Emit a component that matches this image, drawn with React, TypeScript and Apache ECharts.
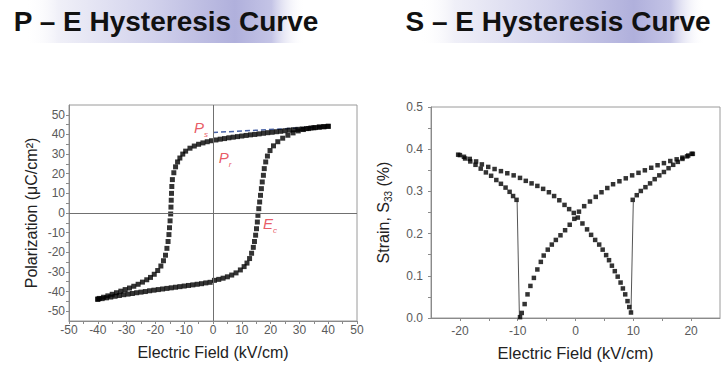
import React, { useEffect, useRef } from 'react';
import * as echarts from 'echarts';

// ---------- P–E loop (E in kV/cm, P in µC/cm²) ----------
const peDescending: [number, number][] = [
  [40, 44.2], [38.5, 44], [37, 43.8], [35.5, 43.5], [34, 43.3], [32.5, 43], [31, 42.8], [29.5, 42.6],
  [28, 42.4], [26.5, 42.2], [25, 41.9], [23.5, 41.6], [22, 41.4], [20.5, 41.1], [19, 40.9], [17.5, 40.6],
  [16, 40.3], [14.5, 40], [13, 39.8], [11.5, 39.5], [10, 39.2], [8.5, 38.9], [7, 38.6], [5.5, 38.3],
  [4, 37.9], [2.5, 37.6], [1, 37.2], [-0.5, 36.8], [-2, 36.3], [-3.5, 35.7], [-5, 35], [-6.5, 34.1],
  [-8, 33], [-9.5, 31.5], [-10.5, 30], [-11.5, 28], [-12.3, 26], [-13, 23.5], [-13.6, 20.5], [-14.1, 17],
  [-14.3, 13.5], [-14.4, 10], [-14.5, 6.5], [-14.6, 3], [-14.7, -0.5], [-14.9, -4], [-15.1, -7.5],
  [-15.3, -11], [-15.6, -14.5], [-16, -18], [-16.5, -21.5], [-17.2, -24.3], [-18.1, -27], [-19.2, -29.3],
  [-20.4, -31.2], [-21.7, -32.8], [-23, -34], [-24.5, -35.2], [-26, -36.3], [-27.5, -37.3], [-29, -38.2],
  [-30.5, -39], [-32, -39.8], [-33.5, -40.6], [-35, -41.4], [-36.5, -42.2], [-38, -42.9], [-39.5, -43.5],
  [-40, -43.8]
];

const peAscending: [number, number][] = [
  [-40, -44], [-38.5, -43.6], [-37, -43.2], [-35.5, -42.8], [-34, -42.4], [-32.5, -42], [-31, -41.6],
  [-29.5, -41.3], [-28, -41], [-26.5, -40.6], [-25, -40.3], [-23.5, -40], [-22, -39.6], [-20.5, -39.3],
  [-19, -39], [-17.5, -38.7], [-16, -38.4], [-14.5, -38.1], [-13, -37.8], [-11.5, -37.5], [-10, -37.2],
  [-8.5, -36.9], [-7, -36.6], [-5.5, -36.3], [-4, -36], [-2.5, -35.6], [-1, -35.3], [0.5, -34.3],
  [2, -33.8], [3.5, -33.2], [5, -32.5], [6.5, -31.6], [8, -30.5], [9.5, -29], [10.8, -27.3], [11.8, -25.5],
  [12.7, -23.2], [13.4, -20.5], [14, -17.5], [14.4, -14.5], [14.8, -11.3], [15.1, -8], [15.4, -4.6],
  [15.6, -1.2], [15.9, 2.2], [16.2, 5.6], [16.5, 9], [16.8, 12.4], [17.1, 15.8], [17.5, 19.2],
  [17.8, 22.6], [18.3, 26], [18.9, 29], [19.8, 31.8], [21, 34.2], [22.5, 36.3], [24.2, 38.1], [26, 39.6],
  [27.8, 40.8], [29.6, 41.8], [31.4, 42.5], [33.2, 43], [35, 43.4], [36.8, 43.7], [38.5, 43.9], [40, 44.1]
];

const psTangent: [number, number][] = [[0, 41], [39, 44]];

const peAnnotationNames = ['Ps', 'Pr', 'Ec'];
const peAnnotationPos: [number, number][] = [[-4.2, 43.7], [4.2, 28.4], [19.8, -5.5]];

const peXTickLabels = [-50, -40, -30, -20, -10, 0, 10, 20, 30, 40, 50];
const peYTicks = [-50, -45, -40, -35, -30, -25, -20, -15, -10, -5, 0, 5, 10, 15, 20, 25, 30, 35, 40, 45, 50];
const peYTickLabels = [-50, -40, -30, -20, -10, 0, 10, 20, 30, 40, 50];

// ---------- S–E butterfly (E in kV/cm, S33 in %) ----------
const seCurveA: [number, number][] = [
  [-20.3, 0.387], [-19.3, 0.382], [-18.3, 0.377], [-17.2, 0.371], [-16.2, 0.364], [-15.1, 0.358],
  [-14, 0.353], [-12.9, 0.348], [-11.8, 0.343], [-10.7, 0.338], [-9.6, 0.332], [-8.6, 0.325],
  [-7.6, 0.319], [-6.6, 0.313], [-5.6, 0.306], [-4.6, 0.298], [-3.7, 0.289], [-2.8, 0.279],
  [-1.9, 0.268], [-1.1, 0.258], [-0.3, 0.249], [0.4, 0.238], [1.2, 0.224], [2, 0.21], [2.7, 0.197],
  [3.4, 0.185], [4.1, 0.174], [4.7, 0.162], [5.3, 0.149], [5.8, 0.137], [6.3, 0.124], [6.8, 0.111],
  [7.3, 0.098], [7.8, 0.084], [8.2, 0.07], [8.6, 0.056], [9, 0.04], [9.3, 0.026], [9.6, 0.013]
];
const seCurveB: [number, number][] = [
  [-9.6, 0.002], [-9.3, 0.012], [-8.8, 0.033], [-8.3, 0.056], [-7.8, 0.076], [-7.2, 0.095],
  [-6.6, 0.115], [-6.0, 0.133], [-5.5, 0.148], [-4.8, 0.162], [-4.1, 0.174], [-3.4, 0.185],
  [-2.6, 0.196], [-1.8, 0.208], [-1.0, 0.221], [-0.2, 0.235], [0.6, 0.252], [1.5, 0.265], [2.5, 0.276],
  [3.5, 0.287], [4.5, 0.298], [5.5, 0.308], [6.5, 0.317], [7.6, 0.324], [8.7, 0.331], [9.8, 0.338],
  [10.9, 0.344], [12, 0.35], [13.1, 0.356], [14.2, 0.362], [15.3, 0.367], [16.4, 0.372], [17.5, 0.376],
  [18.5, 0.38], [19.5, 0.385], [20.3, 0.389]
];
const seCurveC: [number, number][] = [
  [-20, 0.386], [-19.1, 0.378], [-18.2, 0.371], [-17.3, 0.363], [-16.4, 0.354], [-15.5, 0.345],
  [-14.6, 0.337], [-13.7, 0.327], [-12.9, 0.318], [-12.1, 0.309], [-11.4, 0.299], [-10.8, 0.289],
  [-10.2, 0.28]
];
const seCurveD: [number, number][] = [
  [9.9, 0.28], [10.6, 0.291], [11.3, 0.301], [12.1, 0.31], [12.9, 0.319], [13.7, 0.329], [14.5, 0.338],
  [15.3, 0.346], [16.1, 0.355], [16.9, 0.363], [17.7, 0.37], [18.5, 0.377], [19.3, 0.383], [20.1, 0.389]
];
const seJumpLeft: [number, number][] = [[-10.1, 0.276], [-9.7, 0]];
const seJumpRight: [number, number][] = [[10.0, 0.275], [9.6, 0.015]];

const seXTicks = [-20, -15, -10, -5, 0, 5, 10, 15, 20];
const seXTickLabels = [-20, -10, 0, 10, 20];

const FONT = '"Liberation Sans", Arial, Helvetica, sans-serif';
const AXIS_GREY = '#8a8a8a';
const LABEL_GREY = '#5a5a5a';
const RED = '#e2303c';

function bandFill() {
  return new echarts.graphic.LinearGradient(0, 0, 1, 0, [
    { offset: 0, color: 'rgba(255,255,255,0)' },
    { offset: 0.12, color: '#f0f0f8' },
    { offset: 0.45, color: '#d2d2ec' },
    { offset: 0.75, color: '#b0b0dc' },
    { offset: 0.88, color: '#c4c4e6' },
    { offset: 1, color: 'rgba(255,255,255,0)' }
  ]);
}

export default function App() {
  const ref = useRef<HTMLDivElement>(null);

  useEffect(() => {
    if (!ref.current) return;
    const chart = echarts.init(ref.current, null, { renderer: 'svg' });

    const axisCommon = {
      axisLine: { show: true, onZero: false, lineStyle: { color: AXIS_GREY, width: 1 } },
      splitLine: { show: false },
      nameTextStyle: { fontFamily: FONT, color: '#222', fontSize: 16 }
    };

    const scatterStyle = (size: number) => ({
      type: 'scatter' as const,
      symbol: 'rect',
      symbolSize: size,
      itemStyle: { color: '#000' },
      silent: true
    });

    const option: any = {
      animation: false,
      backgroundColor: '#fff',
      textStyle: { fontFamily: FONT },
      graphic: [
        { type: 'rect', z: 0, shape: { x: 25, y: 0, width: 280, height: 43 }, style: { fill: bandFill() } },
        { type: 'rect', z: 0, shape: { x: 420, y: 0, width: 285, height: 43 }, style: { fill: bandFill() } },
        {
          type: 'text', z: 10, x: 166, y: 21.7,
          style: {
            text: 'P – E Hysteresis Curve', font: `bold 28px ${FONT}`, fill: '#111',
            align: 'center', verticalAlign: 'middle', textAlign: 'center', textVerticalAlign: 'middle'
          }
        },
        {
          type: 'text', z: 10, x: 558, y: 21.7,
          style: {
            text: 'S – E Hysteresis Curve', font: `bold 28px ${FONT}`, fill: '#111',
            align: 'center', verticalAlign: 'middle', textAlign: 'center', textVerticalAlign: 'middle'
          }
        }
      ],
      grid: [
        { left: 69, top: 105, width: 288, height: 216, show: true, borderColor: '#9a9a9a', borderWidth: 1, backgroundColor: 'transparent' },
        { left: 431, top: 107, width: 289, height: 214.6, show: true, borderColor: '#9a9a9a', borderWidth: 1, backgroundColor: 'transparent' }
      ],
      xAxis: [
        {
          ...axisCommon,
          type: 'value', gridIndex: 0, min: -50, max: 50, interval: 10,
          axisTick: { show: true, length: 3, lineStyle: { color: AXIS_GREY } },
          minorTick: { show: true, splitNumber: 2, length: 3, lineStyle: { color: AXIS_GREY } },
          axisLabel: {
            fontSize: 12, color: LABEL_GREY, margin: 3, fontFamily: FONT,
            customValues: peXTickLabels, showMinLabel: true, showMaxLabel: true
          },
          name: 'Electric Field (kV/cm)', nameLocation: 'middle', nameGap: 23
        },
        {
          ...axisCommon,
          type: 'value', gridIndex: 1, min: -25, max: 25,
          axisTick: { show: true, length: 3, customValues: seXTicks, lineStyle: { color: AXIS_GREY } },
          axisLabel: { fontSize: 12, color: LABEL_GREY, margin: 7, fontFamily: FONT, customValues: seXTickLabels },
          name: 'Electric Field (kV/cm)', nameLocation: 'middle', nameGap: 26,
          nameTextStyle: { fontFamily: FONT, color: '#222', fontSize: 16.5 }
        }
      ],
      yAxis: [
        {
          ...axisCommon,
          type: 'value', gridIndex: 0, min: -55, max: 55,
          axisTick: { show: true, length: 3, customValues: peYTicks, lineStyle: { color: AXIS_GREY } },
          axisLabel: { fontSize: 12, color: LABEL_GREY, margin: 4, fontFamily: FONT, customValues: peYTickLabels },
          name: 'Polarization (μC/cm²)', nameLocation: 'middle', nameGap: 30
        },
        {
          ...axisCommon,
          type: 'value', gridIndex: 1, min: 0, max: 0.5, interval: 0.1,
          axisTick: { show: true, length: 3, lineStyle: { color: AXIS_GREY } },
          minorTick: { show: true, splitNumber: 2, length: 3, lineStyle: { color: AXIS_GREY } },
          axisLabel: {
            fontSize: 12, color: LABEL_GREY, margin: 8, fontFamily: FONT,
            formatter: (v: number) => v.toFixed(1)
          },
          name: '{a|Strain, S}{b|33}{a| (%)}', nameLocation: 'middle', nameGap: 38,
          nameTextStyle: {
            fontFamily: FONT, color: '#222', fontSize: 16,
            rich: {
              a: { fontFamily: FONT, color: '#222', fontSize: 16, lineHeight: 20 },
              b: { fontFamily: FONT, color: '#222', fontSize: 10, lineHeight: 10, padding: [10, 0, 0, 0] }
            }
          }
        }
      ],
      series: [
        {
          type: 'line', xAxisIndex: 0, yAxisIndex: 0, data: psTangent, showSymbol: false, silent: true,
          lineStyle: { color: '#4a64a8', width: 1.5, type: [5, 3] }, z: 3,
          markLine: {
            silent: true, symbol: ['none', 'none'], label: { show: false },
            lineStyle: { color: '#707070', width: 1, type: 'solid' },
            data: [{ xAxis: 0 }, { yAxis: 0 }]
          }
        },
        { ...scatterStyle(5), xAxisIndex: 0, yAxisIndex: 0, data: peDescending, z: 4 },
        { ...scatterStyle(5), xAxisIndex: 0, yAxisIndex: 0, data: peAscending, z: 4 },
        {
          type: 'scatter', xAxisIndex: 0, yAxisIndex: 0, symbolSize: 1, silent: true, z: 6,
          itemStyle: { color: 'rgba(0,0,0,0)' },
          data: peAnnotationNames.map((n, i) => ({ name: n, value: peAnnotationPos[i] })),
          label: {
            show: true, position: 'inside',
            formatter: (p: any) => `{m|${p.name[0]}}{s|${p.name.slice(1)}}`,
            rich: {
              m: { fontFamily: FONT, fontSize: 15, fontStyle: 'italic', color: RED, lineHeight: 22 },
              s: { fontFamily: FONT, fontSize: 8, fontStyle: 'italic', color: RED, lineHeight: 8, padding: [14, 0, 0, 0] }
            }
          }
        },
        {
          type: 'line', xAxisIndex: 1, yAxisIndex: 1, data: seJumpLeft, showSymbol: false, silent: true,
          lineStyle: { color: '#555', width: 1 }, z: 2
        },
        {
          type: 'line', xAxisIndex: 1, yAxisIndex: 1, data: seJumpRight, showSymbol: false, silent: true,
          lineStyle: { color: '#555', width: 1 }, z: 2
        },
        { ...scatterStyle(4.5), xAxisIndex: 1, yAxisIndex: 1, data: seCurveA, z: 4 },
        { ...scatterStyle(4.5), xAxisIndex: 1, yAxisIndex: 1, data: seCurveB, z: 4 },
        { ...scatterStyle(4.5), xAxisIndex: 1, yAxisIndex: 1, data: seCurveC, z: 4 },
        { ...scatterStyle(4.5), xAxisIndex: 1, yAxisIndex: 1, data: seCurveD, z: 4 }
      ]
    };

    chart.setOption(option);
    return () => chart.dispose();
  }, []);

  return (
    <div
      ref={ref}
      style={{ position: 'fixed', left: 0, top: 0, width: 722, height: 366, background: '#fff' }}
    />
  );
}
